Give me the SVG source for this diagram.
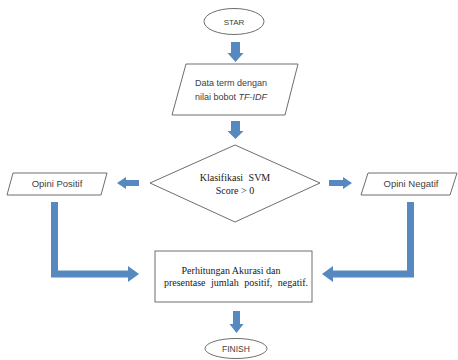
<svg xmlns="http://www.w3.org/2000/svg" width="458" height="360" viewBox="0 0 458 360">
<style>
.shape{fill:#ffffff;stroke:#6e6e6e;stroke-width:1}
.sans{font-family:"Liberation Sans",Arial,sans-serif;fill:#404040;text-anchor:middle}
.serif{font-family:"Liberation Serif","Times New Roman",serif;fill:#202020;text-anchor:middle;font-size:10px}
.arrow{fill:#5689BF;stroke:none}
</style>
<rect width="458" height="360" fill="#ffffff"/>
<g id="start">
<ellipse class="shape" cx="234" cy="21.5" rx="30" ry="13"/>
<text class="sans" x="234" y="24.5" font-size="8">STAR</text>
</g>
<g id="data">
<polygon class="shape" points="186,64 298,64 285,115 172,115"/>
<text class="sans" x="231" y="86" font-size="9">Data term dengan</text>
<text class="sans" x="231" y="100" font-size="9">nilai bobot <tspan font-style="italic">TF-IDF</tspan></text>
</g>
<g id="svm">
<polygon class="shape" points="235,145 320,183 235,222 150,183"/>
<text class="serif" x="235" y="181" word-spacing="3">Klasifikasi SVM</text>
<text class="serif" x="235" y="194">Score &gt; 0</text>
</g>
<g id="positif">
<polygon class="shape" points="13,173 107,173 101,195 7,195"/>
<text class="sans" x="57" y="187" font-size="9.5">Opini Positif</text>
</g>
<g id="negatif">
<polygon class="shape" points="368,173 457,173 450,195 361,195"/>
<text class="sans" x="411" y="187" font-size="9.5">Opini Negatif</text>
</g>
<g id="hasil">
<rect class="shape" x="155" y="251" width="157" height="51"/>
<text class="serif" x="231" y="274">Perhitungan Akurasi dan</text>
<text class="serif" x="236" y="286" word-spacing="3">presentase jumlah positif, negatif.</text>
</g>
<g id="finish">
<ellipse class="shape" cx="236" cy="348.5" rx="31" ry="10"/>
<text class="sans" x="236" y="351.5" font-size="8.5">FINISH</text>
</g>
<g id="connectors">
<polygon class="arrow" points="231,42 240,42 240,53 243.5,53 235.5,62 227.5,53 231,53"/>
<polygon class="arrow" points="231,121 240,121 240,131 243.5,131 235.5,139 227.5,131 231,131"/>
<polygon class="arrow" points="139,180 126,180 126,177 117,183 126,189 126,186 139,186"/>
<polygon class="arrow" points="329,180 343,180 343,177 352,183 343,189 343,186 329,186"/>
<polygon class="arrow" points="51,202 58,202 58,270.5 128,270.5 128,266 139,274 128,282 128,277.5 51,277.5"/>
<polygon class="arrow" points="414,202 407,202 407,270.5 333,270.5 333,266 322,274 333,282 333,277.5 414,277.5"/>
<polygon class="arrow" points="233,311 240,311 240,324 243.5,324 236.5,333 229.5,324 233,324"/>
</g>
</svg>
